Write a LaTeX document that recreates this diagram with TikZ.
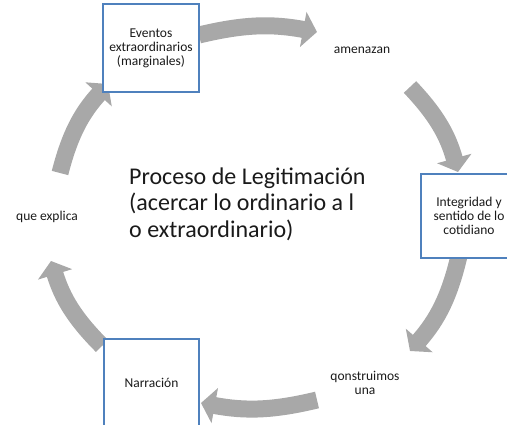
\documentclass[tikz,border=0pt]{standalone}
\usepackage{fontspec}
\setmainfont{Carlito}
\usetikzlibrary{arrows.meta}
\definecolor{boxblue}{HTML}{4F81BD}
\definecolor{arrowgray}{HTML}{A8A8A8}
\definecolor{inktext}{HTML}{1A1A1A}
\newcommand\cyclesmall{\fontsize{13.5}{14}\selectfont}
\newcommand\cyclebig{\fontsize{24}{26.5}\selectfont}
\begin{document}
\begin{tikzpicture}[x=1pt,y=-1pt,
  cyclebox/.style={draw=boxblue, line width=2.2pt, fill=white, inner sep=0pt,
    align=center, font=\cyclesmall, text=inktext},
  steptext/.style={align=center, font=\cyclesmall, text=inktext, inner sep=0pt},
  cyclearrow/.style={draw=arrowgray, line width=17pt,
    -{Triangle[width=35pt,length=14pt]}}
]
\useasboundingbox (0,0) rectangle (507,425);
\clip (0,0) rectangle (507,425);

% curved arrows running clockwise round the cycle
\coordinate (a1s) at (199,35);  \coordinate (a1e) at (317,32);
\coordinate (a2s) at (410,87);  \coordinate (a2e) at (458,172);
\coordinate (a3s) at (459,256); \coordinate (a3e) at (410,351);
\coordinate (a4s) at (317,400); \coordinate (a4e) at (201,403);
\coordinate (a5s) at (102,346); \coordinate (a5e) at (51,261);
\coordinate (a6s) at (60,173);  \coordinate (a6e) at (108,84);
\draw[cyclearrow] (a1s) to[bend left=12] (a1e);
\draw[cyclearrow] (a2s) to[bend left=14] (a2e);
\draw[cyclearrow] (a3s) to[bend left=14] (a3e);
\draw[cyclearrow] (a4s) to[bend left=12] (a4e);
\draw[cyclearrow] (a5s) to[bend left=14] (a5e);
\draw[cyclearrow] (a6s) to[bend left=14] (a6e);

% boxed steps
\node[cyclebox, minimum width=96pt, minimum height=88pt] (eventos) at (151,48)
  {Eventos\\extraordinarios\\(marginales)};
\node[cyclebox, minimum width=96pt, minimum height=84pt] (integridad) at (469,216)
  {Integridad y\\sentido de lo\\cotidiano};
\node[cyclebox, minimum width=95pt, minimum height=87pt] (narracion) at (151.5,382.5)
  {Narración};

% plain steps
\node[steptext] (amenazan) at (362,50) {amenazan};
\node[steptext] (construimos) at (365,382.5) {qonstruimos\\una};
\node[steptext] (explica) at (47,217) {que explica};

% centre text
\node[anchor=west, align=left, font=\cyclebig, text=inktext, inner sep=0pt]
  (proceso) at (129,204)
  {Proceso de Legitimación\\(acercar lo ordinario a l\\o extraordinario)};
\end{tikzpicture}
\end{document}
